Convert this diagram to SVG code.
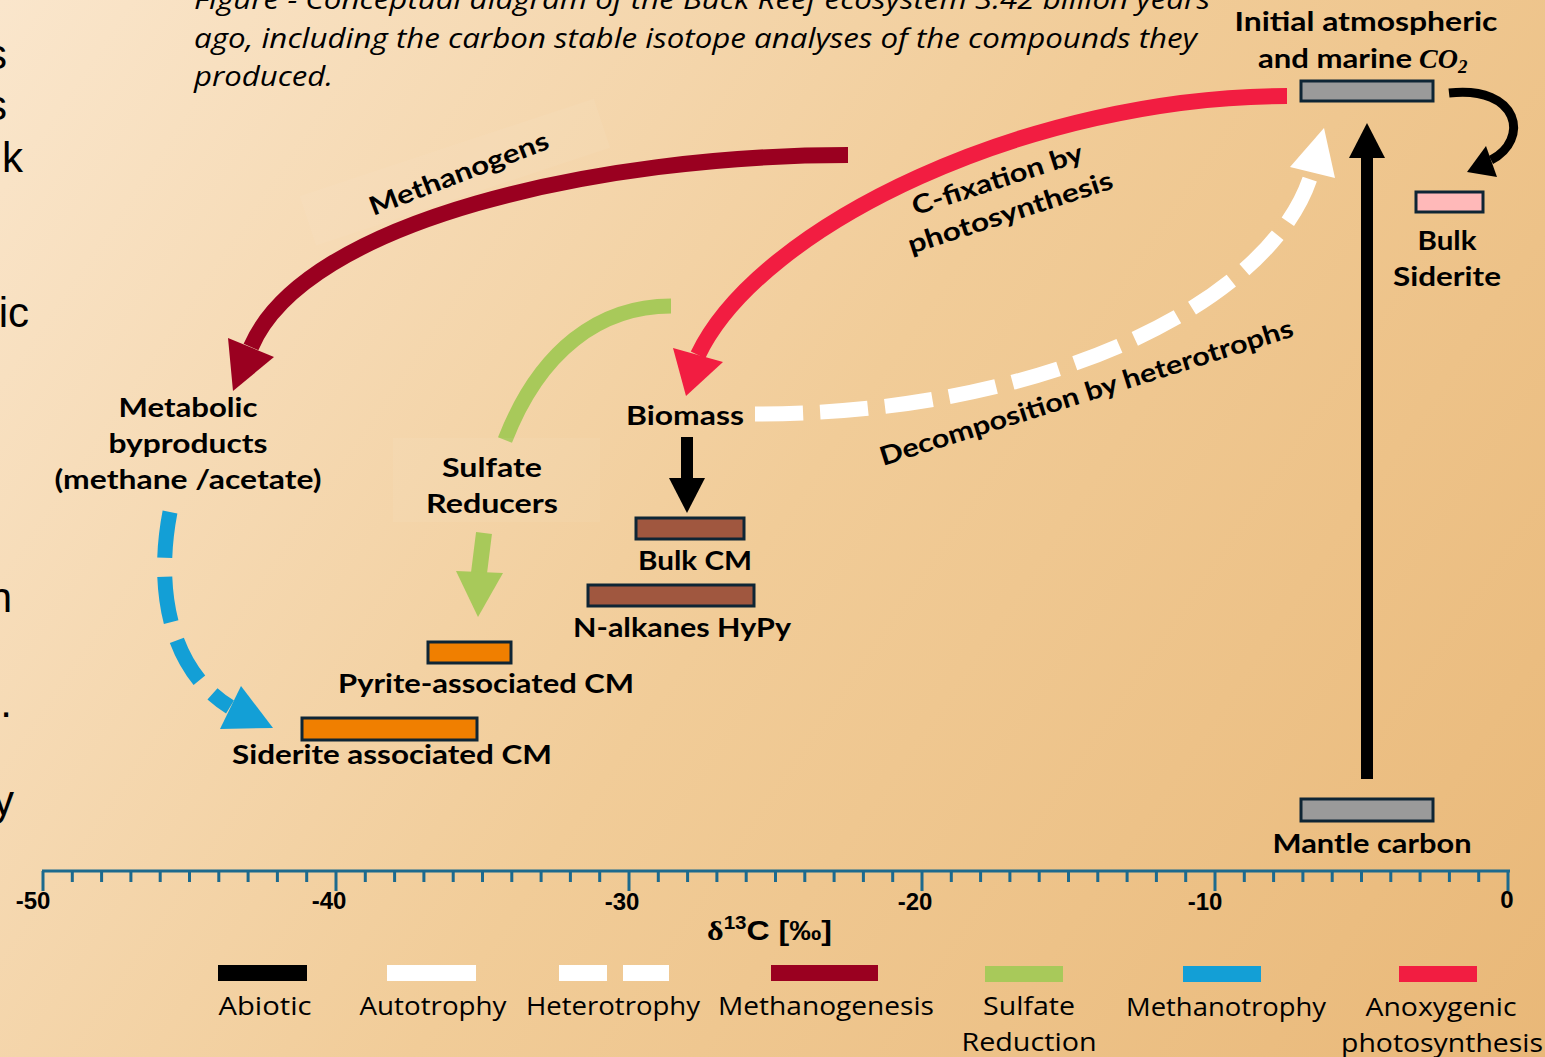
<svg xmlns="http://www.w3.org/2000/svg" width="1545" height="1057" viewBox="0 0 1545 1057">
<defs>
<linearGradient id="bg" gradientUnits="userSpaceOnUse" x1="0" y1="0" x2="1545" y2="1057">
<stop offset="0" stop-color="#fae6cc"/>
<stop offset="0.5" stop-color="#f1cc98"/>
<stop offset="1" stop-color="#e9b878"/>
</linearGradient>
<style>
.lbl{font-family:Lato,"Open Sans","Liberation Sans",sans-serif;font-weight:700;font-size:26px;fill:#000;text-anchor:middle}
.leg{font-family:"Open Sans","Liberation Sans",sans-serif;font-size:25px;fill:#000;text-anchor:middle}
.cap{font-family:"Open Sans","Liberation Sans",sans-serif;font-style:italic;font-size:27px;fill:#000}
.ax{font-family:"Liberation Sans",Arial,sans-serif;font-weight:700;font-size:24px;fill:#000;text-anchor:middle}
.frag{font-family:"Liberation Sans",Arial,sans-serif;font-size:42px;fill:#000;text-anchor:end}
.box{stroke:#0e2535;stroke-width:3}
.tick{stroke:#1c6a8e;stroke-width:3;fill:none}
.c{fill:none;stroke-linecap:butt}
</style>
</defs>
<rect x="0" y="0" width="1545" height="1057" fill="url(#bg)"/>

<!-- cut-off text at left edge -->
<g id="left-fragments">
<text class="frag" x="7" y="69">s</text>
<text class="frag" x="7" y="120">s</text>
<text class="frag" x="23" y="172">k</text>
<text class="frag" x="29" y="327">ic</text>
<text class="frag" x="12" y="612">n</text>
<text class="frag" x="12" y="717">g.</text>
<text class="frag" x="14" y="815">y</text>
</g>

<!-- caption -->
<g id="caption">
<text class="cap" x="194" y="9" textLength="1016" lengthAdjust="spacingAndGlyphs">Figure - Conceptual diagram of the Buck Reef ecosystem 3.42 billion years</text>
<text class="cap" x="194" y="48" textLength="1003" lengthAdjust="spacingAndGlyphs">ago, including the carbon stable isotope analyses of the compounds they</text>
<text class="cap" x="194" y="86" textLength="139" lengthAdjust="spacingAndGlyphs">produced.</text>
</g>

<!-- faint label backgrounds -->
<rect x="300" y="146" width="310" height="52" fill="#ffffff" fill-opacity="0.05" transform="rotate(-18.4 455 172)"/>

<!-- connectors -->
<g id="connectors">
<!-- methanogenesis -->
<path class="c" d="M848,155 C600,155 305,220 251,347" stroke="#9a0020" stroke-width="16"/>
<polygon points="228,338 274,357 233,391" fill="#9a0020"/>
<!-- anoxygenic photosynthesis -->
<path class="c" d="M1287,96 C1030,96 760,225 698,355" stroke="#f21d41" stroke-width="16"/>
<polygon points="673,348 723,362 686,396" fill="#f21d41"/>
<!-- sulfate reduction arc -->
<path class="c" d="M671,306 C600,306 540,350 505,440" stroke="#a8c95a" stroke-width="15"/>
<!-- sulfate reduction down arrow -->
<path class="c" d="M484,533 L479,573" stroke="#a8c95a" stroke-width="16"/>
<polygon points="456,571 503,573 478,617" fill="#a8c95a"/>
<!-- methanotrophy -->
<path class="c" d="M170,512 C155,590 170,670 230,707" stroke="#139fd6" stroke-width="15" stroke-dasharray="46 19"/>
<polygon points="241,686 273,728 220,729" fill="#139fd6"/>
<!-- heterotrophy -->
<path class="c" d="M755,414 C1050,414 1275,300 1312,172" stroke="#ffffff" stroke-width="15" stroke-dasharray="48 17"/>
<polygon points="1290,167 1335,178 1324,128" fill="#ffffff"/>
<!-- abiotic mantle -> CO2 -->
<rect x="1361" y="156" width="12" height="623" fill="#000"/>
<polygon points="1349,158 1385,158 1367,123" fill="#000"/>
<!-- CO2 -> siderite -->
<path class="c" d="M1449,93 C1520,85 1530,140 1491,160" stroke="#000" stroke-width="9"/>
<polygon points="1486,146 1497,177 1467,172" fill="#000"/>
<!-- biomass -> bulk CM -->
<rect x="681" y="437" width="12" height="43" fill="#000"/>
<polygon points="669,478 705,478 687,513" fill="#000"/>
</g>

<rect x="393" y="438" width="207" height="84" fill="#ffffff" fill-opacity="0.05"/>

<!-- connector labels -->
<g id="connector-labels">
<text class="lbl" x="462" y="182" font-size="24" transform="rotate(-21 462 182)" textLength="190" lengthAdjust="spacingAndGlyphs">Methanogens</text>
<text class="lbl" x="1000" y="188" font-size="24" transform="rotate(-18 1000 188)" textLength="178" lengthAdjust="spacingAndGlyphs">C-fixation by</text>
<text class="lbl" x="1013" y="221" font-size="24" transform="rotate(-18 1013 221)" textLength="214" lengthAdjust="spacingAndGlyphs">photosynthesis</text>
<text class="lbl" x="1089" y="401" font-size="24" transform="rotate(-17.5 1089 401)" textLength="432" lengthAdjust="spacingAndGlyphs">Decomposition by heterotrophs</text>
</g>

<!-- nodes -->
<g id="node-co2">
<rect class="box" x="1301" y="81" width="132" height="20" fill="#9a9a9a"/>
<text class="lbl" x="1366" y="31" textLength="263" lengthAdjust="spacingAndGlyphs">Initial atmospheric</text>
<text class="lbl" x="1258" y="68" style="text-anchor:start" textLength="154" lengthAdjust="spacingAndGlyphs">and marine</text>
<text x="1419" y="68" font-family="'Liberation Serif','DejaVu Serif',serif" font-style="italic" font-weight="700" font-size="28">CO<tspan font-size="19" dy="5">2</tspan></text>
</g>

<g id="node-bulk-siderite">
<rect class="box" x="1416" y="192" width="67" height="20" fill="#ffb9b9"/>
<text class="lbl" x="1447" y="250" textLength="59" lengthAdjust="spacingAndGlyphs">Bulk</text>
<text class="lbl" x="1447" y="286" textLength="108" lengthAdjust="spacingAndGlyphs">Siderite</text>
</g>

<g id="node-mantle">
<rect class="box" x="1301" y="799" width="132" height="22" fill="#9a9a9a"/>
<text class="lbl" x="1372" y="853" textLength="199" lengthAdjust="spacingAndGlyphs">Mantle carbon</text>
</g>

<g id="node-metabolic">
<text class="lbl" x="188" y="417" textLength="139" lengthAdjust="spacingAndGlyphs">Metabolic</text>
<text class="lbl" x="188" y="453" textLength="159" lengthAdjust="spacingAndGlyphs">byproducts</text>
<text class="lbl" x="188" y="489" textLength="267" lengthAdjust="spacingAndGlyphs">(methane /acetate)</text>
</g>

<g id="node-sulfate">
<text class="lbl" x="492" y="477" textLength="100" lengthAdjust="spacingAndGlyphs">Sulfate</text>
<text class="lbl" x="492" y="513" textLength="132" lengthAdjust="spacingAndGlyphs">Reducers</text>
</g>

<g id="node-biomass">
<text class="lbl" x="685" y="425" textLength="118" lengthAdjust="spacingAndGlyphs">Biomass</text>
</g>

<g id="node-bulk-cm">
<rect class="box" x="636" y="518" width="108" height="21" fill="#a0573f"/>
<text class="lbl" x="695" y="570" textLength="114" lengthAdjust="spacingAndGlyphs">Bulk CM</text>
</g>

<g id="node-nalkanes">
<rect class="box" x="588" y="585" width="166" height="21" fill="#a0573f"/>
<text class="lbl" x="682" y="637" textLength="218" lengthAdjust="spacingAndGlyphs">N-alkanes HyPy</text>
</g>

<g id="node-pyrite">
<rect class="box" x="428" y="642" width="83" height="21" fill="#f07f00"/>
<text class="lbl" x="486" y="693" textLength="296" lengthAdjust="spacingAndGlyphs">Pyrite-associated CM</text>
</g>

<g id="node-siderite-cm">
<rect class="box" x="302" y="718" width="175" height="22" fill="#f07f00"/>
<text class="lbl" x="392" y="764" textLength="320" lengthAdjust="spacingAndGlyphs">Siderite associated CM</text>
</g>

<!-- axis -->
<g id="axis">
<path class="tick" d="M42 871H1510"/>
<path class="tick" d="M43 871V891M336 871V891M629 871V891M922 871V891M1215 871V891M1508 871V891"/>
<path class="tick" d="M72.3 871V882M101.6 871V882M130.9 871V882M160.2 871V882M189.5 871V882M218.8 871V882M248.1 871V882M277.4 871V882M306.7 871V882M365.3 871V882M394.6 871V882M423.9 871V882M453.2 871V882M482.5 871V882M511.8 871V882M541.1 871V882M570.4 871V882M599.7 871V882M658.3 871V882M687.6 871V882M716.9 871V882M746.2 871V882M775.5 871V882M804.8 871V882M834.1 871V882M863.4 871V882M892.7 871V882M951.3 871V882M980.6 871V882M1009.9 871V882M1039.2 871V882M1068.5 871V882M1097.8 871V882M1127.1 871V882M1156.4 871V882M1185.7 871V882M1244.3 871V882M1273.6 871V882M1302.9 871V882M1332.2 871V882M1361.5 871V882M1390.8 871V882M1420.1 871V882M1449.4 871V882M1478.7 871V882"/>
<text class="ax" x="33" y="909">-50</text>
<text class="ax" x="329" y="909">-40</text>
<text class="ax" x="622" y="910">-30</text>
<text class="ax" x="915" y="910">-20</text>
<text class="ax" x="1205" y="910">-10</text>
<text class="ax" x="1507" y="908">0</text>
<text x="707" y="940" font-family="'Liberation Sans',Arial,sans-serif" font-weight="700" font-size="28" textLength="125" lengthAdjust="spacingAndGlyphs"><tspan font-family="'Liberation Serif','Times New Roman',serif">δ</tspan><tspan font-size="18" dy="-11">13</tspan><tspan dy="11">C [‰]</tspan></text>
</g>

<!-- legend -->
<g id="legend">
<rect x="218" y="965" width="89" height="16" fill="#000"/>
<rect x="387" y="965" width="89" height="16" fill="#fff"/>
<rect x="559" y="965" width="48" height="16" fill="#fff"/>
<rect x="623" y="965" width="46" height="16" fill="#fff"/>
<rect x="771" y="965" width="107" height="16" fill="#9a0020"/>
<rect x="985" y="966" width="78" height="16" fill="#a8c95a"/>
<rect x="1183" y="966" width="78" height="16" fill="#139fd6"/>
<rect x="1399" y="966" width="78" height="16" fill="#f21d41"/>
<text class="leg" x="265" y="1015" textLength="93" lengthAdjust="spacingAndGlyphs">Abiotic</text>
<text class="leg" x="433" y="1015" textLength="147" lengthAdjust="spacingAndGlyphs">Autotrophy</text>
<text class="leg" x="613" y="1015" textLength="174" lengthAdjust="spacingAndGlyphs">Heterotrophy</text>
<text class="leg" x="826" y="1015" textLength="216" lengthAdjust="spacingAndGlyphs">Methanogenesis</text>
<text class="leg" x="1029" y="1015" textLength="92" lengthAdjust="spacingAndGlyphs">Sulfate</text>
<text class="leg" x="1029" y="1051" textLength="135" lengthAdjust="spacingAndGlyphs">Reduction</text>
<text class="leg" x="1226" y="1016" textLength="200" lengthAdjust="spacingAndGlyphs">Methanotrophy</text>
<text class="leg" x="1441" y="1016" textLength="151" lengthAdjust="spacingAndGlyphs">Anoxygenic</text>
<text class="leg" x="1442" y="1052" textLength="202" lengthAdjust="spacingAndGlyphs">photosynthesis</text>
</g>
</svg>
